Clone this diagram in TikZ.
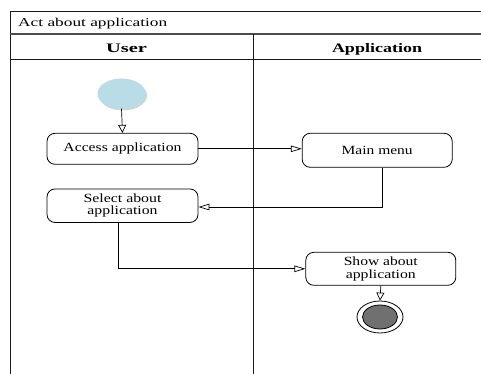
\documentclass[tikz,border=0pt]{standalone}
\usepackage{fontspec}
\setmainfont{Liberation Serif}
\usetikzlibrary{arrows.meta,shapes.geometric,shadows}

% set a piece of text to a given width, keeping its height
\newcommand\fitto[2]{\resizebox{#1}{\height}{#2}}

\tikzset{
  frameline/.style={line width=0.9pt, black!90},
  action/.style={draw, line width=0.8pt, rounded corners=8pt, fill=white,
    align=center, inner sep=0pt, font=\fontsize{12.5}{12.5}\selectfont},
  flow/.style={line width=0.7pt, -{Triangle[open, length=11pt, width=6.5pt]}},
  flowdown/.style={line width=0.7pt, -{Triangle[open, length=8pt, width=8pt]}},
}

\begin{document}
\begin{tikzpicture}[x=1pt, y=-1pt]
\useasboundingbox (0,0) rectangle (481,374);

% swimlane frame
\draw[frameline] (10,374) -- (10,11) -- (481,11);
\draw[frameline, black!70, line width=1.1pt] (10,34) -- (481,34);
\draw[frameline] (10,59) -- (481,59);
\draw[frameline] (253,34) -- (253,374);

% frame title and lane headers
\node[anchor=base west, inner sep=0pt, font=\fontsize{12}{12}\selectfont]
  (title) at (18,26.5) {\fitto{149pt}{Act about application}};
\node[anchor=base, inner sep=0pt, font=\fontsize{13}{13}\selectfont\bfseries]
  (laneuser) at (126.5,52.5) {\fitto{41pt}{User}};
\node[anchor=base, inner sep=0pt, font=\fontsize{13}{13}\selectfont\bfseries]
  (laneapp) at (377,52.5) {\fitto{90pt}{Application}};

% initial node
\node[ellipse, minimum width=48pt, minimum height=30pt, inner sep=0pt,
  fill={rgb,255:red,184;green,221;blue,230},
  drop shadow={shadow xshift=1.5pt, shadow yshift=-2pt, opacity=0.35}]
  (start) at (121.5,93.5) {};

% actions
\node[action, minimum width=151pt, minimum height=31pt] (access)
  at (122.5,148.8) {\fitto{118pt}{Access application}};
\node[action, minimum width=150pt, minimum height=34pt] (mainmenu)
  at (377.2,150.3) {\fitto{71pt}{Main menu}};
\node[action, minimum width=151pt, minimum height=33.5pt] (select)
  at (122.5,205.7) {\fitto{78pt}{Select about}\\\fitto{70pt}{application}};
\node[action, minimum width=150pt, minimum height=33pt] (show)
  at (380.8,268.8) {\fitto{74pt}{Show about}\\\fitto{70pt}{application}};

% final node
\node[ellipse, draw, line width=0.8pt, fill=white, minimum width=46pt,
  minimum height=32pt, inner sep=0pt] (final) at (380,317) {};
\node[ellipse, draw, line width=0.8pt, fill={rgb,255:red,112;green,112;blue,112},
  minimum width=35pt, minimum height=24pt, inner sep=0pt] (finalcore) at (final) {};

% control flow
\draw[flowdown] (start.south) -- (access.north);
\draw[flow] (access.east) -- (access.east -| mainmenu.west);
\draw[flow] ([xshift=5pt]mainmenu.south) |- ([yshift=-1.3pt]select.east);
\draw[flow] ([xshift=-4pt]select.south) |- (show.west);
\draw[flowdown] (show.south) -- (final.north);
\end{tikzpicture}
\end{document}
